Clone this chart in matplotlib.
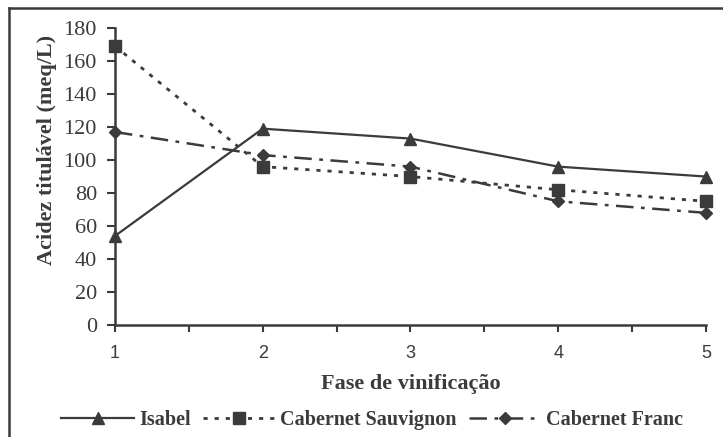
import matplotlib
matplotlib.use('Agg')
import matplotlib.pyplot as plt
from matplotlib.lines import Line2D

# Fase de vinificação
fases = [1, 2, 3, 4, 5]

# Acidez titulável (meq/L)
isabel = [54, 119, 113, 96, 90]
cab_sauvignon = [169, 96, 90, 82, 75]
cab_franc = [117, 103, 96, 75, 68]

y_ticks = [0, 20, 40, 60, 80, 100, 120, 140, 160, 180]

ink = '#3b3b3b'
serif = ['Liberation Serif', 'DejaVu Serif']
sans = ['Liberation Sans', 'DejaVu Sans']

fig = plt.figure(figsize=(7.23, 4.37), dpi=100)
ax = fig.add_axes([0.159, 0.256, 0.8175, 0.68])

ax.plot(fases, isabel, color=ink, linestyle='-', linewidth=1.6,
        marker='^', markersize=8, label='Isabel', clip_on=False, zorder=3)
ax.plot(fases, cab_sauvignon, color=ink, linestyle=(0, (1.5, 2.5)), linewidth=2,
        marker='s', markersize=8, label='Cabernet Sauvignon', clip_on=False, zorder=3)
ax.plot(fases, cab_franc, color=ink, linestyle=(0, (7, 3, 1.5, 3)), linewidth=1.8,
        marker='D', markersize=6, label='Cabernet Franc', clip_on=False, zorder=3)

ax.set_xlim(1, 5)
ax.set_ylim(0, 180)
ax.set_yticks(y_ticks)
ax.set_yticklabels([str(v) for v in y_ticks], fontfamily=serif, fontsize=16, color=ink)

# ticks at every category and between categories
ax.set_xticks(fases)
ax.set_xticklabels([str(v) for v in fases], fontfamily=sans, fontsize=13, color=ink)
ax.set_xticks([1.5, 2.5, 3.5, 4.5], minor=True)
ax.tick_params(axis='x', which='both', direction='out', length=5, width=1.5,
               color=ink, pad=9)
ax.tick_params(axis='y', direction='out', length=6, width=1.5, color=ink, pad=7)

for side in ['top', 'right']:
    ax.spines[side].set_visible(False)
for side in ['left', 'bottom']:
    ax.spines[side].set_color(ink)
    ax.spines[side].set_linewidth(1.8)

ax.set_ylabel('Acidez titulável (meq/L)', fontfamily=serif, fontweight='bold',
              fontsize=16, color=ink)
ax.yaxis.set_label_coords(-0.098, 0.59)
ax.set_xlabel('Fase de vinificação', fontfamily=serif, fontweight='bold',
              fontsize=16, color=ink)
ax.xaxis.set_label_coords(0.5, -0.165)

leg = fig.legend(loc='center', bbox_to_anchor=(0.515, 0.038), ncol=3, frameon=False,
                 handlelength=3.6, handletextpad=0.25, columnspacing=0.6,
                 prop={'family': serif, 'weight': 'bold', 'size': 14.5})
for t in leg.get_texts():
    t.set_color(ink)

# outer frame (left and top edges visible)
fig.add_artist(Line2D([0.012, 0.012], [0.0, 0.982], transform=fig.transFigure,
                      color=ink, linewidth=1.8))
fig.add_artist(Line2D([0.012, 1.0], [0.982, 0.982], transform=fig.transFigure,
                      color=ink, linewidth=1.8))

fig.savefig('out.png', dpi=100)
